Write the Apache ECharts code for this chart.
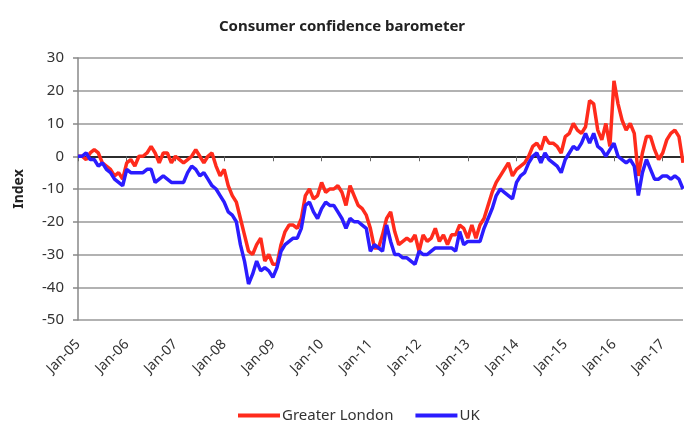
<!DOCTYPE html>
<html>
<head>
<meta charset="utf-8">
<script src="https://cdn.jsdelivr.net/npm/echarts@6/dist/echarts.min.js"></script>
<style>
  html, body { margin: 0; padding: 0; background: #fff; }
  #chart { width: 684px; height: 423px; }
</style>
</head>
<body>
<div id="chart"></div>
<script>
// monthly index, Jan-05 .. Jun-17
const monthNames = ['Jan', 'Feb', 'Mar', 'Apr', 'May', 'Jun', 'Jul', 'Aug', 'Sep', 'Oct', 'Nov', 'Dec'];
const years = ['05', '06', '07', '08', '09', '10', '11', '12', '13', '14', '15', '16', '17'];
const lastMonth = 5; // Jun-17

const greaterLondon = [
  0, 0, -1, 1, 2, 1, -2, -3, -4, -6, -5, -7,
  -2, -1, -3, 0, 0, 1, 3, 1, -2, 1, 1, -2,
  0, -1, -2, -1, 0, 2, 0, -2, 0, 1, -3, -6,
  -4, -9, -12, -14, -19, -24, -29, -30, -27, -25, -32, -30,
  -33, -33, -27, -23, -21, -21, -22, -19, -12, -10, -13, -12,
  -8, -11, -10, -10, -9, -11, -15, -9, -12, -15, -16, -18,
  -22, -28, -28, -24, -19, -17, -23, -27, -26, -25, -26, -24,
  -29, -24, -26, -25, -22, -26, -24, -27, -24, -24, -21, -22,
  -25, -21, -25, -21, -19, -15, -11, -8, -6, -4, -2, -6,
  -4, -3, -2, 0, 3, 4, 2, 6, 4, 4, 3, 1,
  6, 7, 10, 8, 7, 9, 17, 16, 8, 5, 10, 3,
  23, 16, 11, 8, 10, 7, -6, 1, 6, 6, 2, -1,
  1, 5, 7, 8, 6, -2
];

const uk = [
  0, 0, 1, -1, -1, -3, -2, -4, -5, -7, -8, -9,
  -4, -5, -5, -5, -5, -4, -4, -8, -7, -6, -7, -8,
  -8, -8, -8, -5, -3, -4, -6, -5, -7, -9, -10, -12,
  -14, -17, -18, -20, -27, -32, -39, -36, -32, -35, -34, -35,
  -37, -34, -29, -27, -26, -25, -25, -22, -15, -14, -17, -19,
  -16, -14, -15, -15, -17, -19, -22, -19, -20, -20, -21, -22,
  -29, -27, -28, -29, -21, -26, -30, -30, -31, -31, -32, -33,
  -29, -30, -30, -29, -28, -28, -28, -28, -28, -29, -23, -27,
  -26, -26, -26, -26, -22, -19, -16, -12, -10, -11, -12, -13,
  -8, -6, -5, -2, 0, 1, -2, 1, -1, -2, -3, -5,
  -1, 1, 3, 2, 4, 7, 4, 7, 3, 2, 0, 2,
  4, 0, -1, -2, -1, -3, -12, -5, -1, -4, -7, -7,
  -6, -6, -7, -6, -7, -10
];

const categories = [];
years.forEach((y, yi) => {
  monthNames.forEach((m, mi) => {
    if (yi === years.length - 1 && mi > lastMonth) return;
    categories.push(m + '-' + y);
  });
});

const font = 'Noto Sans';
const chart = echarts.init(document.getElementById('chart'));

chart.setOption({
  animation: false,
  title: {
    text: 'Consumer confidence barometer',
    left: 'center',
    top: 14,
    textStyle: { fontFamily: font, fontSize: 15, fontWeight: 'bold', color: '#222' }
  },
  legend: {
    left: 233,
    top: 403,
    icon: 'rect',
    itemWidth: 42,
    itemHeight: 4,
    itemGap: 22,
    textStyle: { fontFamily: font, fontSize: 15, color: '#333', padding: [0, 0, 0, -3] },
    data: ['Greater London', 'UK']
  },
  grid: { left: 78, top: 58, right: 1, bottom: 103 },
  xAxis: [
    {
      type: 'category',
      data: categories,
      boundaryGap: false,
      position: 'bottom',
      axisLine: { onZero: true, lineStyle: { color: '#000', width: 1.5 } },
      axisTick: { interval: 11, length: 5, lineStyle: { color: '#666' } },
      axisLabel: { show: false },
      splitLine: { show: false }
    },
    {
      type: 'category',
      data: categories,
      boundaryGap: false,
      position: 'bottom',
      axisLine: { show: false, onZero: false },
      axisTick: { show: false },
      axisLabel: {
        interval: 11,
        rotate: 45,
        margin: 22,
        fontFamily: font,
        fontSize: 14,
        color: '#333'
      },
      splitLine: { show: false }
    }
  ],
  yAxis: {
    type: 'value',
    min: -50,
    max: 30,
    interval: 10,
    name: 'Index',
    nameLocation: 'middle',
    nameGap: 52,
    nameRotate: 90,
    nameTextStyle: { fontFamily: font, fontSize: 14, fontWeight: 'bold', color: '#222' },
    axisLine: { show: true, lineStyle: { color: '#888', width: 1.5 } },
    axisTick: { show: true, length: 5, lineStyle: { color: '#888', width: 1.5 } },
    axisLabel: { margin: 14, fontFamily: font, fontSize: 15, color: '#333' },
    splitLine: { lineStyle: { color: '#999', width: 1.5 } }
  },
  series: [
    {
      name: 'Greater London',
      type: 'line',
      data: greaterLondon,
      symbol: 'none',
      lineStyle: { color: '#ff2b1c', width: 3.5 },
      itemStyle: { color: '#ff2b1c' }
    },
    {
      name: 'UK',
      type: 'line',
      data: uk,
      symbol: 'none',
      lineStyle: { color: '#2b1cff', width: 3.5 },
      itemStyle: { color: '#2b1cff' }
    }
  ]
});
</script>
</body>
</html>
